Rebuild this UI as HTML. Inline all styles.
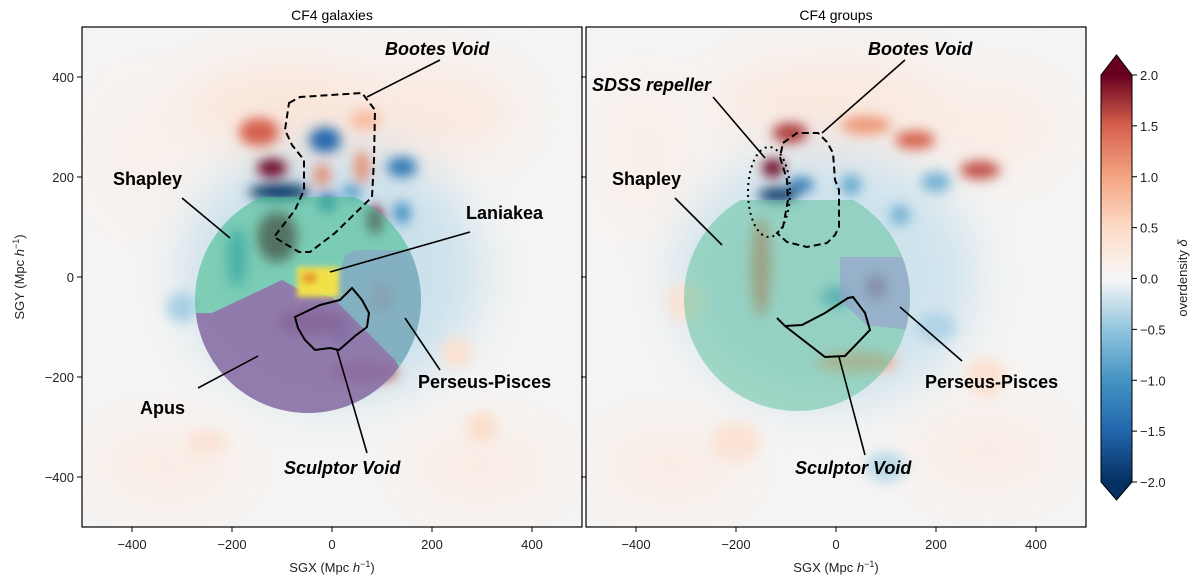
<!DOCTYPE html>
<html><head><meta charset="utf-8">
<style>
body{margin:0;background:#fff;}
svg text{font-family:"Liberation Sans","DejaVu Sans",sans-serif;}
.lab{font-weight:bold;font-size:18px;fill:#000;}
.it{font-style:italic;}
.tk{font-size:13px;fill:#222;}
</style></head>
<body>
<svg id="chart" width="1200" height="582" xmlns="http://www.w3.org/2000/svg">
<defs>
<filter id="blur" x="-50%" y="-50%" width="200%" height="200%"><feGaussianBlur stdDeviation="6"/></filter>
<filter id="blurBig" x="-50%" y="-50%" width="200%" height="200%"><feGaussianBlur stdDeviation="25"/></filter>
<filter id="blur2" x="-50%" y="-50%" width="200%" height="200%"><feGaussianBlur stdDeviation="3"/></filter>
<clipPath id="clipL"><rect x="82" y="27" width="500" height="500"/></clipPath>
<clipPath id="clipR"><rect x="586" y="27" width="500" height="500"/></clipPath>
<linearGradient id="cbar" x1="0" y1="1" x2="0" y2="0">
<stop offset="0" stop-color="#053061"/><stop offset="0.125" stop-color="#2166ac"/><stop offset="0.25" stop-color="#4393c3"/><stop offset="0.375" stop-color="#92c5de"/><stop offset="0.5" stop-color="#f7f7f7"/><stop offset="0.625" stop-color="#fddbc7"/><stop offset="0.75" stop-color="#f4a582"/><stop offset="0.875" stop-color="#d6604d"/><stop offset="1" stop-color="#67001f"/>
</linearGradient>
</defs>
<g id="panelL" clip-path="url(#clipL)"></g>
<g id="panelR" clip-path="url(#clipR)"></g>
<g id="axes"></g>
<g id="annot" fill="none" stroke="#000" stroke-width="2">
<path d="M289,103 L300,97 L362,93 L375,110 L374,160 L372,197 L335,233 L310,252 L299,252 L274,237 L295,210 L304,190 L304,160 L292,145 L285,130 Z" stroke-dasharray="7,4"/>
<path d="M295,317 L320,305 L340,300 L352,288 L362,300 L369,313 L367,327 L355,336 L339,350 L330,348 L315,350 L305,340 L298,328 Z"/>
<path d="M783,143 L797,133 L818,133 L827,142 L833,153 L835,180 L839,190 L839,227 L835,235 L827,243 L807,247 L787,242 L777,233 L783,227 L788,200 L787,180 L780,157 Z" stroke-dasharray="7,4"/>
<ellipse cx="769" cy="192" rx="21" ry="45" stroke-dasharray="2,4"/>
<path d="M777,318 L785,326 L802,325 L825,313 L848,298 L853,297 L865,313 L870,330 L845,356 L825,357 L785,326"/>
<g stroke-width="1.6">
<line x1="440" y1="60" x2="367" y2="97"/><line x1="182" y1="198" x2="230" y2="238"/>
<line x1="470" y1="232" x2="330" y2="272"/><line x1="198" y1="388" x2="258" y2="356"/>
<line x1="440" y1="370" x2="405" y2="318"/><line x1="367" y1="453" x2="337" y2="350"/>
<line x1="905" y1="60" x2="822" y2="133"/><line x1="713" y1="97" x2="765" y2="158"/>
<line x1="675" y1="198" x2="722" y2="245"/><line x1="962" y1="361" x2="900" y2="307"/>
<line x1="865" y1="455" x2="839" y2="357"/>
</g>
</g>
<g>
<text class="lab it" x="385" y="55">Bootes Void</text>
<text class="lab" x="113" y="185">Shapley</text>
<text class="lab" x="466" y="219">Laniakea</text>
<text class="lab" x="140" y="414">Apus</text>
<text class="lab" x="418" y="388">Perseus-Pisces</text>
<text class="lab it" x="284" y="474">Sculptor Void</text>
<text class="lab it" x="868" y="55">Bootes Void</text>
<text class="lab it" x="592" y="91">SDSS repeller</text>
<text class="lab" x="612" y="185">Shapley</text>
<text class="lab" x="925" y="388">Perseus-Pisces</text>
<text class="lab it" x="795" y="474">Sculptor Void</text>
</g>
</svg>
<script>
const NS='http://www.w3.org/2000/svg';
const xTicks=[-400,-200,0,200,400];
const yTicks=[-400,-200,0,200,400];
const cbTicks=[-2.0,-1.5,-1.0,-0.5,0.0,0.5,1.0,1.5,2.0];
// broad background structures: [sgx, sgy, rx, ry, delta]
const haloL=[[0,10,300,260,-0.22],[-80,340,220,90,0.3],[200,330,180,90,0.25],[-330,-380,150,80,0.2],[300,-380,150,80,0.2],[-380,250,100,150,0.12]];
const haloR=[[-20,0,300,260,-0.2],[0,350,250,90,0.25],[300,300,150,90,0.2],[-330,-380,150,80,0.2],[300,-350,150,80,0.2],[-380,250,100,150,0.15]];
// density blobs: [sgx, sgy, rx, ry, delta]
const blobsL=[[-146,290,40,28,1.5],[-120,218,30,18,2.4],[-105,170,62,16,-2.6],[-14,274,32,25,-1.5],[-20,204,16,22,1.2],[86,114,16,28,2.4],[140,220,30,20,-1.3],[60,220,14,32,1.2],[140,128,16,22,-1.1],[66,314,30,20,0.8],[-10,150,20,20,-1.3],[40,170,20,15,-0.9],[-110,80,40,50,2.2],[-40,-90,70,25,2.0],[60,-190,70,20,1.7],[20,-110,15,22,-2.0],[100,-40,22,30,1.4],[-190,40,20,60,-0.9],[-300,-60,30,30,-0.4],[250,-150,30,30,0.4],[-250,-330,40,25,0.35],[300,-300,30,30,0.45]];
const blobsR=[[-92,288,35,20,1.7],[-126,218,22,18,2.4],[-116,164,40,14,-2.6],[-70,184,25,15,-1.3],[60,304,50,18,1.1],[158,274,40,18,1.5],[288,214,40,18,1.6],[30,184,20,20,-0.8],[128,124,20,20,-0.7],[200,190,30,20,-0.7],[-150,20,20,100,1.3],[80,-20,20,25,2.0],[40,-170,80,20,1.0],[0,-40,30,20,-0.9],[-300,-50,40,40,0.35],[300,-200,40,40,0.4],[-200,-330,50,40,0.35],[100,-380,40,30,-0.3],[200,-100,40,30,-0.35]];
// overlay region polygons (sgx,sgy vertices)
const purpleL=[[-364,-72],[-240,-72],[-100,-6],[-64,-26],[0,-40],[126,-166],[196,-286],[-364,-286]];
const blueL=[[0,-40],[16,14],[26,44],[46,54],[196,54],[196,-206],[126,-166]];
const blueR=[[8,40],[148,40],[148,-106],[60,-96],[8,-46]];
const diskL=[-48,-46,226,160];
const diskR=[-78,-42,226,154];
const cmap=[[-2,[5,48,97]],[-1.5,[33,102,172]],[-1,[67,147,195]],[-0.5,[146,197,222]],[0,[247,247,247]],[0.5,[253,219,199]],[1,[244,165,130]],[1.5,[214,96,77]],[2,[103,0,31]]];
function col(d){d=Math.max(-2,Math.min(2,d));for(let i=0;i<cmap.length-1;i++){const a=cmap[i],b=cmap[i+1];if(d<=b[0]){const t=(d-a[0])/(b[0]-a[0]);return 'rgb('+a[1].map((v,k)=>Math.round(v+(b[1][k]-v)*t)).join(',')+')';}}return 'rgb(103,0,31)';}
function mk(t,a,p){const e=document.createElementNS(NS,t);for(const k in a)e.setAttribute(k,a[k]);if(p)p.appendChild(e);return e;}
const defs=document.querySelector('defs');
const panels=[{id:'panelL',x0:82,blobs:blobsL,halo:haloL,disk:diskL,side:'left'},{id:'panelR',x0:586,blobs:blobsR,halo:haloR,disk:diskR,side:'right'}];
const Y=v=>277-v*0.5;
const axes=document.getElementById('axes');
panels.forEach(P=>{
 const X=v=>P.x0+250+v*0.5;
 const poly=pts=>pts.map(p=>X(p[0])+','+Y(p[1])).join(' ');
 const g=document.getElementById(P.id);
 const bg=mk('rect',{x:P.x0,y:27,width:500,height:500,fill:'#f5f4f3'},g);
 
 
 const hg=mk('g',{filter:'url(#blurBig)'},g);
 P.halo.forEach(b=>{const e=mk('ellipse',{cx:X(b[0]),cy:Y(b[1]),rx:b[2]*0.5,ry:b[3]*0.5,fill:col(b[4])},hg);
  
  });
 const bl=mk('g',{filter:'url(#blur)'},g);
 P.blobs.forEach(b=>{const e=mk('ellipse',{cx:X(b[0]),cy:Y(b[1]),rx:b[2]*0.5,ry:b[3]*0.5,fill:col(b[4])},bl);
  
  });
 const cid='disk'+P.side;
 const cp=mk('clipPath',{id:cid},defs);
 const D=P.disk;
 const cx=X(D[0]),cy=Y(D[1]),r=D[2]*0.5,top=Y(D[3]);
 const dclip=document.createElementNS(NS,'path');
 let pts=[];for(let a=0;a<360;a+=3){const px=cx+r*Math.cos(a*Math.PI/180),py=cy-r*Math.sin(a*Math.PI/180);pts.push([px,Math.max(py,top)]);}
 dclip.setAttribute('d','M'+pts.map(p=>p.join(',')).join(' L')+'Z');
 cp.appendChild(dclip);
 const sg=mk('g',{'clip-path':'url(#'+cid+')'},g);
 const base=mk('rect',{x:cx-r-5,y:top,width:2*r+10,height:2*r,fill:P.side==='left'?'rgba(70,190,145,0.6)':'rgba(100,195,160,0.55)'},sg);
 
 
 if(P.side==='left'){
  const pu=mk('polygon',{points:poly(purpleL),fill:'rgb(150,100,170)','fill-opacity':0.78},sg);
  
  
  const bu=mk('polygon',{points:poly(blueL),fill:'rgb(135,165,200)','fill-opacity':0.7},sg);
  
  
  const ly=mk('g',{filter:'url(#blur2)'},g);
  const e=mk('rect',{x:X(-70),y:Y(20),width:42,height:30,fill:'#f2e04a'},ly);
  
  
  mk('ellipse',{cx:X(-45),cy:Y(-2),rx:8,ry:6,fill:'#e8a030'},ly);
 } else {
  const bu=mk('polygon',{points:poly(blueR),fill:'rgb(150,160,205)','fill-opacity':0.65},sg);
  
  
 }
 const fr=mk('rect',{x:P.x0,y:27,width:500,height:500,fill:'none',stroke:'#000','stroke-width':1.2},axes);
 
 
 xTicks.forEach(t=>{mk('line',{x1:X(t),x2:X(t),y1:527,y2:532,stroke:'#000'},axes);
  const tx=mk('text',{x:X(t),y:549,'text-anchor':'middle',class:'tk'},axes);tx.textContent=(t<0?'\u2212'+(-t):t);
  
  });
 const xl=mk('text',{x:P.x0+250,y:572,'text-anchor':'middle',class:'tk'},axes);
 xl.innerHTML='SGX (Mpc <tspan font-style="italic">h</tspan><tspan dy="-5" font-size="9">\u22121</tspan><tspan dy="5">)</tspan>';
 
 
 const tt=mk('text',{x:P.x0+250,y:20,'text-anchor':'middle','font-size':'14'},axes);
 tt.textContent=P.side==='left'?'CF4 galaxies':'CF4 groups';
 
 
 yTicks.forEach(t=>{mk('line',{x1:P.x0-5,x2:P.x0,y1:Y(t),y2:Y(t),stroke:'#000'},axes);
  if(P.side==='left'){const tx=mk('text',{x:P.x0-8,y:Y(t)+5,'text-anchor':'end',class:'tk'},axes);tx.textContent=(t<0?'\u2212'+(-t):t);
  
  }});
});
const yl=mk('text',{transform:'translate(24,277) rotate(-90)','text-anchor':'middle',class:'tk'},axes);
yl.innerHTML='SGY (Mpc <tspan font-style="italic">h</tspan><tspan dy="-5" font-size="9">\u22121</tspan><tspan dy="5">)</tspan>';


const cb=mk('g',{},axes);


const CY=v=>278.5-v*101.75;
mk('rect',{x:1101,y:CY(2),width:31,height:CY(-2)-CY(2),fill:'url(#cbar)'},cb);
mk('path',{d:`M1101,${CY(2)} L1116.5,55 L1132,${CY(2)}Z`,fill:'#67001f'},cb);
mk('path',{d:`M1101,${CY(-2)} L1116.5,500 L1132,${CY(-2)}Z`,fill:'#053061'},cb);
mk('path',{d:`M1101,${CY(2)} L1116.5,55 L1132,${CY(2)} L1132,${CY(-2)} L1116.5,500 L1101,${CY(-2)}Z`,fill:'none',stroke:'#000','stroke-width':1},cb);
cbTicks.forEach(t=>{mk('line',{x1:1132,x2:1137,y1:CY(t),y2:CY(t),stroke:'#000'},cb);
 const tx=mk('text',{x:1140,y:CY(t)+5,class:'tk'},cb);tx.textContent=(t<0?'\u2212'+(-t).toFixed(1):t.toFixed(1));
 
 });
const cl=mk('text',{transform:'translate(1187,278) rotate(-90)','text-anchor':'middle',class:'tk'},cb);
cl.innerHTML='overdensity <tspan font-style="italic">δ</tspan>';


</script>
</body></html>
